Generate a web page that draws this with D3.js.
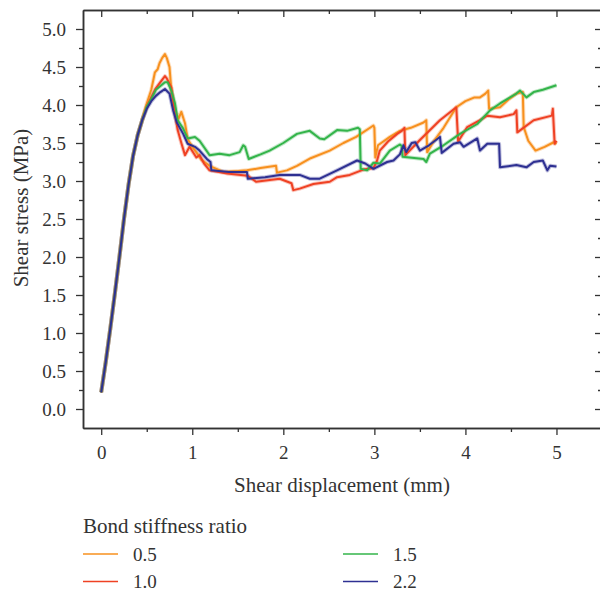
<!DOCTYPE html>
<html lang="en">
<head>
    <meta charset="UTF-8">
    <title>Shear stress vs displacement</title>
    <style>
        body {
            margin: 0;
            padding: 0;
            background-color: #fff;
        }
        svg text {
            font-family: "Liberation Serif", "DejaVu Serif", serif;
            fill: #333;
        }
        .axis path, .axis line {
            stroke: #333;
        }
        .axis path {
            stroke-width: 1.5;
        }
        .axis line {
            stroke-width: 1.3;
        }
    </style>
</head>
<body>
    <div id="chart"></div>
    <script src="https://d3js.org/d3.v7.min.js"></script>
    <script>
        // legend labels and colours
        const ratios = ["0.5", "1.0", "1.5", "2.2"];
        const colors = ["#F7901E", "#EF4123", "#33B44A", "#2E3092"];

        const xTicks = [0, 1, 2, 3, 4, 5];
        const yTicks = [0, 0.5, 1, 1.5, 2, 2.5, 3, 3.5, 4, 4.5, 5];

        // shared elastic part (mm, MPa)
        const rise = [[0, 0.22], [0.05, 0.62], [0.1, 1.06], [0.15, 1.52], [0.2, 2.0], [0.25, 2.5],
            [0.3, 2.95], [0.35, 3.33], [0.4, 3.6], [0.45, 3.8]];

        const s05 = [[0.5, 4.02], [0.55, 4.2], [0.59, 4.43], [0.62, 4.47], [0.64, 4.55], [0.67, 4.62], [0.7, 4.67],
            [0.72, 4.62], [0.75, 4.5], [0.77, 4.2], [0.81, 3.93], [0.85, 3.82], [0.88, 3.91], [0.92, 3.76],
            [0.95, 3.55], [1.0, 3.45], [1.05, 3.37], [1.1, 3.28], [1.19, 3.2], [1.34, 3.12], [1.5, 3.13],
            [1.6, 3.14], [1.75, 3.17], [1.92, 3.2], [1.93, 3.11], [2.04, 3.14], [2.15, 3.2], [2.3, 3.3],
            [2.51, 3.4], [2.66, 3.5], [2.8, 3.58], [2.99, 3.73], [3.0, 3.7], [3.01, 3.31], [3.04, 3.47],
            [3.17, 3.58], [3.28, 3.66], [3.4, 3.7], [3.54, 3.77], [3.57, 3.8], [3.58, 3.38], [3.65, 3.52],
            [3.76, 3.7], [3.9, 3.97], [4.0, 4.05], [4.1, 4.1], [4.16, 4.1], [4.22, 4.15], [4.25, 4.19],
            [4.26, 3.95], [4.38, 3.97], [4.47, 4.07], [4.56, 4.15], [4.63, 4.17], [4.64, 3.71], [4.69, 3.53],
            [4.77, 3.4], [4.87, 3.45], [4.97, 3.51], [5.0, 3.49]];

        const s10 = [[0.5, 3.98], [0.55, 4.1], [0.6, 4.22], [0.65, 4.3], [0.7, 4.38], [0.72, 4.35], [0.77, 4.23],
            [0.81, 3.88], [0.84, 3.67], [0.88, 3.5], [0.92, 3.34], [0.97, 3.45], [1.045, 3.31], [1.08, 3.34],
            [1.13, 3.23], [1.19, 3.14], [1.38, 3.1], [1.61, 3.07], [1.7, 2.99], [1.96, 3.03], [2.09, 2.97],
            [2.11, 2.88], [2.18, 2.9], [2.33, 2.96], [2.51, 2.99], [2.59, 3.05], [2.73, 3.08], [2.88, 3.15],
            [2.99, 3.17], [3.03, 3.27], [3.06, 3.4], [3.15, 3.52], [3.25, 3.62], [3.3, 3.66], [3.33, 3.7],
            [3.34, 3.34], [3.5, 3.54], [3.72, 3.8], [3.9, 3.97], [3.92, 3.52], [4.02, 3.71], [4.16, 3.8],
            [4.24, 3.86], [4.38, 3.84], [4.53, 3.88], [4.56, 3.93], [4.57, 3.64], [4.75, 3.8], [4.95, 3.86],
            [4.96, 3.95], [4.98, 3.49], [5.0, 3.53]];

        const s15 = [[0.5, 3.98], [0.55, 4.08], [0.6, 4.2], [0.65, 4.25], [0.7, 4.3], [0.73, 4.3], [0.77, 4.19],
            [0.81, 4.02], [0.84, 3.8], [0.9, 3.69], [0.95, 3.56], [1.03, 3.58], [1.08, 3.53], [1.19, 3.34],
            [1.3, 3.36], [1.41, 3.34], [1.52, 3.38], [1.56, 3.47], [1.58, 3.45], [1.62, 3.29], [1.75, 3.35],
            [1.85, 3.4], [2.0, 3.5], [2.15, 3.62], [2.29, 3.66], [2.4, 3.56], [2.45, 3.55], [2.59, 3.67],
            [2.7, 3.66], [2.82, 3.7], [2.84, 3.68], [2.85, 3.16], [2.92, 3.14], [2.99, 3.24], [3.06, 3.23],
            [3.17, 3.4], [3.28, 3.48], [3.3, 3.46], [3.31, 3.32], [3.54, 3.29], [3.57, 3.25], [3.61, 3.36],
            [3.76, 3.47], [3.94, 3.62], [4.13, 3.75], [4.27, 3.93], [4.38, 4.02], [4.56, 4.15], [4.6, 4.19],
            [4.67, 4.1], [4.75, 4.17], [4.85, 4.2], [5.0, 4.26]];

        const s22 = [[0.5, 3.95], [0.55, 4.05], [0.6, 4.12], [0.65, 4.17], [0.7, 4.21], [0.75, 4.15], [0.79, 3.93],
            [0.83, 3.77], [0.9, 3.62], [0.95, 3.49], [1.03, 3.45], [1.08, 3.4], [1.16, 3.29], [1.2, 3.25],
            [1.21, 3.14], [1.4, 3.12], [1.6, 3.12], [1.61, 3.03], [1.8, 3.05], [1.96, 3.08], [2.07, 3.08],
            [2.18, 3.08], [2.29, 3.03], [2.4, 3.03], [2.59, 3.14], [2.81, 3.27], [2.9, 3.23], [2.99, 3.16],
            [3.14, 3.25], [3.21, 3.27], [3.28, 3.35], [3.32, 3.47], [3.35, 3.38], [3.41, 3.5], [3.45, 3.51],
            [3.5, 3.4], [3.6, 3.47], [3.72, 3.58], [3.74, 3.37], [3.87, 3.49], [3.94, 3.51], [3.98, 3.45],
            [4.13, 3.56], [4.16, 3.4], [4.24, 3.49], [4.37, 3.49], [4.38, 3.18], [4.56, 3.21], [4.67, 3.18],
            [4.75, 3.25], [4.85, 3.27], [4.9, 3.14], [4.93, 3.2], [5.0, 3.19]];

        const series = [s05, s10, s15, s22].map(s => rise.concat(s));

        const width = 600;
        const height = 591;
        const margin = { top: 10, right: -2, bottom: 163, left: 83 };

        const svg = d3.select("#chart")
            .append("svg")
            .attr("width", width)
            .attr("height", height);

        const xScale = d3.scaleLinear().domain([-0.2, 5.5]).range([margin.left, width - margin.right]);
        const yScale = d3.scaleLinear().domain([-0.25, 5.25]).range([height - margin.bottom, margin.top]);

        const x0 = margin.left, x1 = width - margin.right;
        const y0 = height - margin.bottom, y1 = margin.top;

        const xMinor = d3.range(0.5, 5.5, 1);
        const yMinor = d3.range(0.25, 5.25, 0.5);

        // bottom
        svg.append("g").attr("class", "axis")
            .attr("transform", `translate(0,${y0})`)
            .call(d3.axisBottom(xScale).tickValues(xMinor).tickSize(4).tickSizeOuter(0).tickFormat(""));
        svg.append("g").attr("class", "axis")
            .attr("transform", `translate(0,${y0})`)
            .call(d3.axisBottom(xScale).tickValues(xTicks).tickSize(7).tickSizeOuter(0).tickPadding(11).tickFormat(d3.format("d")))
            .call(g => g.selectAll("text").attr("font-size", 19).style("font-family", "Liberation Serif"));

        // top (ticks inward)
        svg.append("g").attr("class", "axis")
            .attr("transform", `translate(0,${y1})`)
            .call(d3.axisBottom(xScale).tickValues(xMinor).tickSize(4).tickSizeOuter(0).tickFormat(""));
        svg.append("g").attr("class", "axis")
            .attr("transform", `translate(0,${y1})`)
            .call(d3.axisBottom(xScale).tickValues(xTicks).tickSize(7).tickSizeOuter(0).tickFormat(""));

        // left
        svg.append("g").attr("class", "axis")
            .attr("transform", `translate(${x0},0)`)
            .call(d3.axisLeft(yScale).tickValues(yMinor).tickSize(4).tickSizeOuter(0).tickFormat(""));
        svg.append("g").attr("class", "axis")
            .attr("transform", `translate(${x0},0)`)
            .call(d3.axisLeft(yScale).tickValues(yTicks).tickSize(7).tickSizeOuter(0).tickPadding(10).tickFormat(d3.format(".1f")))
            .call(g => g.selectAll("text").attr("font-size", 19).style("font-family", "Liberation Serif"));

        // right (ticks inward)
        svg.append("g").attr("class", "axis")
            .attr("transform", `translate(${x1},0)`)
            .call(d3.axisLeft(yScale).tickValues(yMinor).tickSize(4).tickSizeOuter(0).tickFormat(""));
        svg.append("g").attr("class", "axis")
            .attr("transform", `translate(${x1},0)`)
            .call(d3.axisLeft(yScale).tickValues(yTicks).tickSize(7).tickSizeOuter(0).tickFormat(""));

        const line = d3.line()
            .x(d => xScale(d[0]))
            .y(d => yScale(d[1]));

        const plot = svg.append("g");

        // faint halo to give the noisy band look
        plot.selectAll(".halo")
            .data(series)
            .enter()
            .append("path")
            .attr("class", "halo")
            .attr("d", line)
            .attr("fill", "none")
            .attr("stroke", (d, i) => colors[i])
            .attr("stroke-width", 4)
            .attr("stroke-opacity", 0.3)
            .attr("stroke-linejoin", "round");

        series.forEach((s, i) => {
            plot.append("path")
                .datum(s)
                .attr("d", line)
                .attr("fill", "none")
                .attr("stroke", colors[i])
                .attr("stroke-width", 2)
                .attr("stroke-linejoin", "round");
        });

        // axis titles
        svg.append("text")
            .attr("x", (x0 + 601) / 2)
            .attr("y", 492)
            .attr("text-anchor", "middle")
            .attr("font-size", 21)
            .text("Shear displacement (mm)");

        svg.append("text")
            .attr("transform", "translate(28,208) rotate(-90)")
            .attr("text-anchor", "middle")
            .attr("font-size", 21)
            .text("Shear stress (MPa)");

        // legend
        svg.append("text")
            .attr("x", 83)
            .attr("y", 533)
            .attr("font-size", 21)
            .text("Bond stiffness ratio");

        const legendPos = [[83, 554], [83, 581.5], [343, 554], [343, 581.5]];
        const legend = svg.selectAll(".legend")
            .data(ratios)
            .enter()
            .append("g")
            .attr("class", "legend")
            .attr("transform", (d, i) => `translate(${legendPos[i][0]},${legendPos[i][1]})`);

        legend.append("line")
            .attr("x1", 0).attr("x2", 35)
            .attr("stroke", (d, i) => colors[i])
            .attr("stroke-width", 1.5);

        legend.append("text")
            .attr("x", 50)
            .attr("y", 6.5)
            .attr("font-size", 19)
            .text(d => d);
    </script>
</body>
</html>
